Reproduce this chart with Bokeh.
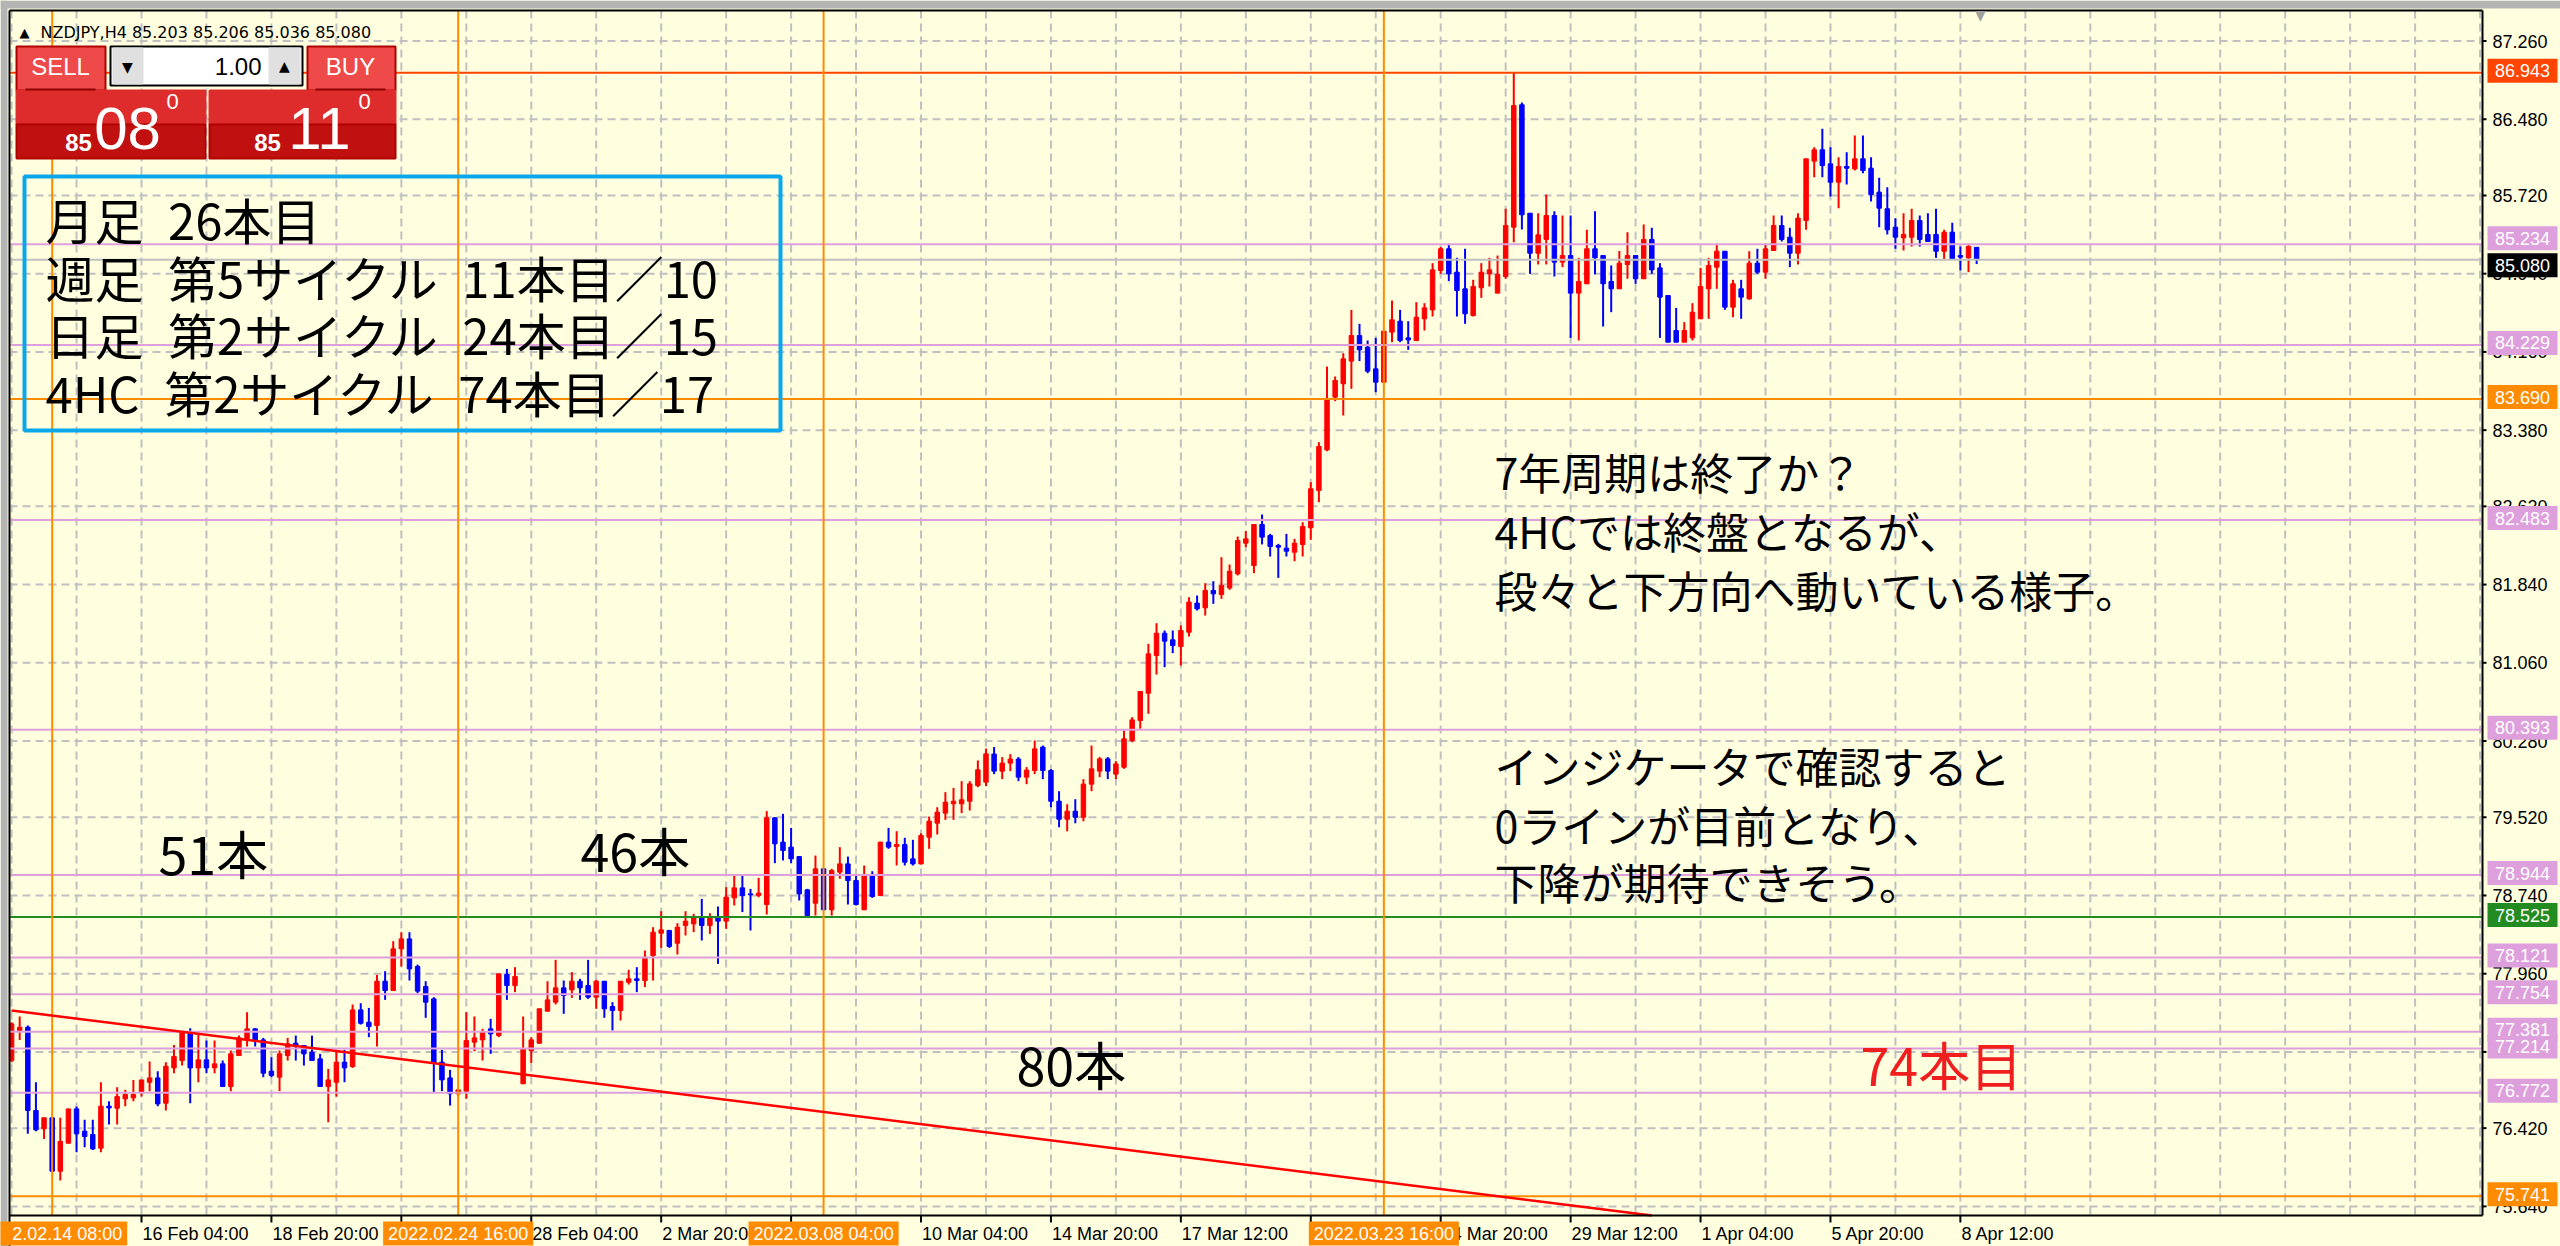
from bokeh.plotting import figure
from bokeh.models import ColumnDataSource, Range1d, Label, BoxAnnotation
from bokeh.core.properties import value
from bokeh.embed import file_html
from bokeh.resources import INLINE

# ---------------------------------------------------------------- data
first_bar = -16   # bar index 0 = 16 Feb 04:00 (H4 bars)
opens = [77.094,77.393,77.426,76.596,76.413,76.523,75.991,76.270,76.612,76.390,76.357,76.220,76.639,76.619,76.712,76.722,
 76.778,76.878,76.921,76.669,77.021,77.094,77.377,77.021,77.101,77.021,77.061,76.835,77.144,77.310,77.410,77.300,
 76.988,76.928,77.144,77.267,77.244,77.177,77.111,76.835,76.878,77.078,77.034,77.599,77.476,77.443,77.885,77.792,
 78.208,78.307,78.032,77.832,77.709,77.078,76.921,76.762,76.789,77.277,77.300,77.410,77.344,77.952,77.842,76.862,
 77.194,77.267,77.586,77.676,77.819,77.799,77.885,77.842,77.726,77.885,77.633,77.593,77.875,77.909,77.892,78.141,
 78.364,78.391,78.264,78.441,78.457,78.517,78.441,78.517,78.484,78.716,78.816,78.756,78.740,78.650,79.514,79.272,
 79.222,79.128,78.796,78.663,79.006,78.597,78.973,79.055,78.889,78.597,78.949,78.740,79.272,79.228,79.248,79.105,
 79.055,79.321,79.461,79.561,79.654,79.654,79.680,79.836,79.870,80.150,79.980,80.060,80.100,79.920,79.986,80.219,
 79.986,79.680,79.500,79.580,79.520,79.850,79.980,80.102,79.950,80.019,80.285,80.485,80.757,81.133,81.355,81.289,
 81.222,81.365,81.655,81.608,81.781,81.741,81.807,81.947,82.253,82.030,82.439,82.329,82.230,82.203,82.163,82.240,
 82.406,82.778,83.183,83.709,83.842,84.068,84.323,84.207,83.991,83.858,84.357,84.466,84.300,84.274,84.490,84.579,
 84.972,85.188,84.955,84.789,84.523,84.799,84.938,84.746,84.912,85.404,86.624,85.543,85.144,85.281,85.520,85.055,
 85.121,84.746,84.839,85.188,85.121,84.862,84.789,85.032,85.121,84.889,85.281,84.998,84.722,84.373,84.257,84.300,
 84.490,84.789,85.005,85.164,84.606,84.789,84.689,85.045,84.955,85.171,85.420,85.304,85.144,85.470,86.062,86.175,
 86.035,85.852,86.009,85.985,86.085,85.992,85.753,85.587,85.404,85.297,85.304,85.470,85.331,85.331,85.164,85.354,
 85.121,85.098,85.203]
highs = [77.476,77.533,77.443,76.878,76.523,76.523,76.523,76.612,76.636,76.503,76.503,76.878,76.689,76.828,76.802,76.901,
 76.901,77.084,76.988,77.078,77.250,77.386,77.416,77.353,77.293,77.293,77.094,77.194,77.343,77.576,77.416,77.320,
 77.127,77.194,77.320,77.343,77.244,77.343,77.161,77.011,77.201,77.201,77.653,77.666,77.619,77.948,77.985,78.284,
 78.374,78.374,78.051,77.885,77.726,77.201,77.001,76.802,77.576,77.533,77.410,77.510,77.959,78.008,78.025,77.533,
 77.327,77.610,77.885,78.098,77.892,77.975,77.909,78.098,77.899,77.885,77.676,77.885,77.999,78.025,78.191,78.424,
 78.583,78.397,78.464,78.583,78.557,78.706,78.563,78.630,78.823,78.939,78.939,78.806,78.916,79.581,79.521,79.554,
 79.414,79.128,78.806,79.138,79.006,79.006,79.222,79.128,78.939,79.039,78.982,79.272,79.414,79.381,79.315,79.295,
 79.361,79.527,79.620,79.770,79.813,79.880,79.880,80.086,80.205,80.220,80.120,80.150,80.120,80.020,80.285,80.235,
 80.000,79.780,79.650,79.700,79.900,80.235,80.120,80.120,80.080,80.385,80.518,80.774,81.249,81.455,81.382,81.382,
 81.432,81.714,81.731,81.854,81.874,82.113,82.040,82.319,82.373,82.439,82.539,82.346,82.246,82.346,82.296,82.462,
 82.861,83.260,84.014,83.915,84.147,84.579,84.440,84.274,84.300,84.367,84.672,84.579,84.466,84.656,84.646,85.045,
 85.205,85.238,85.098,85.188,84.879,85.045,85.098,85.121,85.587,86.943,86.647,85.543,85.543,85.729,85.563,85.520,
 85.520,85.098,85.377,85.563,85.121,85.022,85.165,85.354,85.121,85.430,85.397,85.045,84.722,84.599,84.457,84.646,
 84.998,85.098,85.238,85.164,84.879,84.879,85.164,85.188,85.238,85.520,85.520,85.397,85.543,86.085,86.201,86.384,
 86.201,86.102,86.151,86.318,86.318,86.102,85.896,85.803,85.493,85.543,85.587,85.520,85.543,85.587,85.377,85.447,
 85.211,85.238,85.206]
lows = [77.078,77.300,76.363,76.390,76.313,75.991,75.898,76.270,76.180,76.230,76.203,76.180,76.456,76.456,76.639,76.689,
 76.735,76.789,76.639,76.596,76.968,77.044,76.669,76.878,76.968,76.968,76.835,76.789,77.144,77.234,77.234,76.928,
 76.928,76.789,77.094,77.094,77.044,77.094,76.835,76.479,76.735,76.878,77.021,77.453,77.327,77.234,77.699,77.792,
 78.032,77.892,77.766,77.520,76.778,76.789,76.645,76.735,76.712,77.187,77.094,77.161,77.327,77.699,77.776,76.862,
 77.068,77.260,77.586,77.653,77.560,77.719,77.699,77.709,77.610,77.520,77.394,77.493,77.852,77.776,77.826,77.892,
 78.218,78.218,78.151,78.341,78.374,78.291,78.357,78.058,78.407,78.640,78.574,78.391,78.723,78.550,79.062,79.089,
 79.062,78.690,78.540,78.540,78.597,78.540,78.906,78.650,78.640,78.597,78.716,78.740,79.205,79.039,79.039,79.039,
 79.049,79.205,79.348,79.494,79.494,79.561,79.587,79.820,79.830,79.950,79.900,79.980,79.880,79.850,79.950,79.900,
 79.620,79.420,79.380,79.460,79.480,79.780,79.920,79.900,79.900,80.003,80.268,80.402,80.551,80.943,81.016,81.156,
 81.033,81.322,81.581,81.531,81.648,81.698,81.788,81.931,82.213,81.954,82.240,82.120,81.907,82.120,82.073,82.120,
 82.286,82.662,83.170,83.669,83.526,83.792,84.068,83.948,83.758,83.858,84.257,84.257,84.181,84.267,84.373,84.513,
 84.938,84.865,84.513,84.440,84.513,84.699,84.812,84.746,84.889,85.254,85.381,84.938,85.032,85.032,84.912,85.005,
 84.300,84.274,84.839,84.932,84.413,84.556,84.789,84.889,84.839,84.889,84.938,84.300,84.257,84.257,84.257,84.274,
 84.490,84.490,84.789,84.580,84.506,84.490,84.679,84.938,84.889,85.171,85.261,85.005,85.032,85.377,85.902,85.902,
 85.709,85.593,85.829,85.969,85.942,85.660,85.404,85.331,85.188,85.171,85.211,85.211,85.261,85.098,85.078,85.078,
 84.972,84.955,85.036]
closes = [77.460,77.426,76.596,76.403,76.523,75.991,76.287,76.612,76.363,76.337,76.213,76.639,76.622,76.735,76.755,76.755,
 76.901,76.921,76.662,77.038,77.134,77.377,77.021,77.101,77.021,77.061,76.835,77.161,77.320,77.410,77.300,76.968,
 76.945,77.161,77.260,77.244,77.161,77.094,76.835,76.901,77.078,77.021,77.599,77.466,77.433,77.885,77.792,78.208,
 78.307,78.008,77.786,77.676,77.068,76.901,76.762,76.802,77.293,77.320,77.377,77.360,77.959,77.842,77.932,77.211,
 77.300,77.610,77.699,77.819,77.743,77.885,77.819,77.726,77.885,77.610,77.593,77.885,77.909,77.892,78.125,78.374,
 78.397,78.231,78.424,78.484,78.517,78.441,78.517,78.484,78.723,78.816,78.740,78.747,78.763,79.514,79.255,79.188,
 79.105,78.756,78.540,79.006,78.597,78.989,79.055,78.889,78.650,78.939,78.730,79.272,79.222,79.248,79.072,79.055,
 79.338,79.481,79.571,79.670,79.680,79.694,79.853,79.993,80.152,79.980,80.060,80.100,79.920,79.990,80.202,79.986,
 79.680,79.500,79.580,79.520,79.850,80.003,80.102,79.980,80.052,80.302,80.491,80.774,81.149,81.355,81.276,81.232,
 81.382,81.665,81.598,81.781,81.748,81.831,81.974,82.279,82.296,82.439,82.313,82.220,82.213,82.173,82.253,82.419,
 82.795,83.217,83.692,83.875,84.091,84.323,84.181,83.968,83.858,84.367,84.480,84.274,84.280,84.506,84.599,84.978,
 85.188,84.938,84.772,84.540,84.812,84.955,84.978,84.932,85.420,86.617,85.527,85.144,85.327,85.520,85.055,85.121,
 84.746,84.862,85.188,85.098,84.839,84.789,85.045,85.121,84.889,85.281,84.978,84.706,84.257,84.257,84.373,84.556,
 84.812,85.022,85.164,84.606,84.839,84.706,85.045,84.955,85.188,85.420,85.281,85.144,85.494,86.085,86.175,86.019,
 85.852,86.009,85.992,86.085,85.969,85.729,85.593,85.377,85.304,85.331,85.470,85.281,85.261,85.164,85.354,85.088,
 85.105,85.211,85.080]

# price levels (horizontal lines) and their kinds
level_prices = [86.943, 85.234, 84.229, 83.690, 82.483, 80.393, 78.944, 78.525,
                78.121, 77.754, 77.381, 77.214, 76.772, 75.741]
level_kinds = ["high", "zone", "zone", "band", "zone", "zone", "zone", "zero",
               "zone", "zone", "zone", "zone", "zone", "band"]
current_price = 85.080

# price scale ticks
y_tick_values = [87.26, 86.48, 85.72, 84.94, 84.16, 83.38, 82.62, 81.84, 81.06,
                 80.28, 79.52, 78.74, 77.96, 77.18, 76.42, 75.64]
# time scale ticks (bar index -> label)
x_tick_bars = [0, 16, 32, 48, 64, 80, 96, 112, 128, 144, 160, 176, 192, 208, 224]
x_tick_labels = ["16 Feb 04:00", "18 Feb 20:00", "23 Feb 12:00", "28 Feb 04:00", "2 Mar 20:00",
                 "7 Mar 12:00", "10 Mar 04:00", "14 Mar 20:00", "17 Mar 12:00", "22 Mar 04:00",
                 "24 Mar 20:00", "29 Mar 12:00", "1 Apr 04:00", "5 Apr 20:00", "8 Apr 12:00"]
grid_bars = list(range(-16, 289, 8))
# cycle-low vertical lines
cycle_bars = [-11, 39, 84, 153]
cycle_labels = ["2022.02.14 08:00", "2022.02.24 16:00", "2022.03.08 04:00", "2022.03.23 16:00"]
# long-term trend line (bar index, price)
trend_bars = [-16, 186]
trend_prices = [77.593, 75.549]

# ---------------------------------------------------------------- layout (page pixels)
W, H = 2560, 1246
BAR_PX, BAR0_PX = 8.12, 141.0        # pixels per bar, page x of bar 0
PX_PER_YEN, REF_PRICE, REF_PX = 100.29, 86.943, 72.3
CHART_L, CHART_T, AXIS_X, AXIS_Y = 9, 10, 2482, 1215


def px_x(px):
    return (px - BAR0_PX) / BAR_PX


def px_y(py):
    return REF_PRICE - (py - REF_PX) / PX_PER_YEN


def y_px(price):
    return REF_PX + (REF_PRICE - price) * PX_PER_YEN


BG = "#FFFFE0"
BULL, BEAR = "#FF0000", "#0000FF"
LEVEL_COLORS = {"high": "#FF4500", "zone": "#DDA0DD", "band": "#FF8C00", "zero": "#228B22"}
AXIS_FONT = "Liberation Sans"
JP_FONT = "Noto Sans CJK JP"

p = figure(frame_width=W, frame_height=H, min_border=0,
           x_range=Range1d(px_x(0), px_x(W)), y_range=Range1d(px_y(H), px_y(0)),
           x_axis_type=None, y_axis_type=None,
           output_backend="svg", toolbar_location=None,
           background_fill_color=BG, border_fill_color=BG)
p.outline_line_color = None

xl, xr = px_x(CHART_L), px_x(AXIS_X)
yt, yb = px_y(CHART_T), px_y(AXIS_Y)

# window chrome
p.quad(left=[px_x(0), px_x(0)], right=[px_x(W), px_x(7)], top=[px_y(0), px_y(0)],
       bottom=[px_y(8), px_y(H)], fill_color="#B4B4B4", line_color=None)

# dashed grid
p.segment(x0=grid_bars, y0=[yt] * len(grid_bars), x1=grid_bars, y1=[yb] * len(grid_bars),
          line_color="#C0C0C0", line_width=2, line_dash="8 5")
p.segment(x0=[xl] * len(y_tick_values), y0=y_tick_values, x1=[xr] * len(y_tick_values),
          y1=y_tick_values, line_color="#C0C0C0", line_width=2, line_dash="8 5")

# candles
bars = list(range(first_bar, first_bar + len(opens)))
colors = [BULL if c >= o else BEAR for o, c in zip(opens, closes)]
src = ColumnDataSource(dict(x=bars, o=opens, h=highs, l=lows, c=closes, color=colors,
                            top=[max(o, c) for o, c in zip(opens, closes)],
                            bottom=[min(o, c) for o, c in zip(opens, closes)]))
p.segment(x0="x", y0="l", x1="x", y1="h", line_color="color", line_width=2, source=src)
p.vbar(x="x", width=0.55, top="top", bottom="bottom", fill_color="color",
       line_color="color", line_width=1, source=src)

# horizontal level lines
n = len(level_prices)
p.segment(x0=[xl] * n, y0=level_prices, x1=[xr] * n, y1=level_prices,
          line_color=[LEVEL_COLORS[k] for k in level_kinds], line_width=2)
p.segment(x0=[xl], y0=[current_price], x1=[xr], y1=[current_price], line_color="#C0C0C0", line_width=2)

# vertical cycle lines
p.segment(x0=cycle_bars, y0=[yt] * 4, x1=cycle_bars, y1=[yb] * 4, line_color="#FF8C00", line_width=2)

# trend line
p.line(trend_bars, trend_prices, line_color="#FF0000", line_width=2.5)

# chart border and scales
p.segment(x0=[xl, xl, xr, xl], y0=[yt, yt, yt, yb], x1=[xr, xl, xr, xr], y1=[yt, px_y(H), yb, yb],
          line_color="black", line_width=2)
tick_len_x = 4 / BAR_PX
p.segment(x0=[xr] * len(y_tick_values), y0=y_tick_values, x1=[xr + tick_len_x] * len(y_tick_values),
          y1=y_tick_values, line_color="black", line_width=2)
p.segment(x0=x_tick_bars, y0=[yb] * len(x_tick_bars), x1=x_tick_bars,
          y1=[px_y(AXIS_Y + 7)] * len(x_tick_bars), line_color="black", line_width=2)
p.text(x=[px_x(2492)] * len(y_tick_values), y=y_tick_values,
       text=[f"{v:.3f}" for v in y_tick_values], text_font=value(AXIS_FONT),
       text_font_size="18px", text_color="black", text_align="left", text_baseline="middle")
p.text(x=x_tick_bars, y=[px_y(1233)] * len(x_tick_bars), text=x_tick_labels, x_offset=1,
       text_font=value(AXIS_FONT), text_font_size="18px", text_color="black",
       text_align="left", text_baseline="middle")

# price tags on the price scale (the bid tag pushes an overlapping tag aside)
TAG_HALF = 12
tag_prices = level_prices + [current_price]
tag_colors = [LEVEL_COLORS[k] for k in level_kinds] + ["black"]
tag_cy = [y_px(v) - 2 for v in tag_prices]
k = len(tag_cy) - 1
for j in range(k):
    gap = abs(tag_cy[k] - tag_cy[j])
    if gap < 2 * TAG_HALF:
        ov = 2 * TAG_HALF - gap + 3
        sgn = 1 if tag_cy[k] > tag_cy[j] else -1
        tag_cy[j] -= sgn * 0.35 * ov
        tag_cy[k] += sgn * 0.65 * ov
p.quad(left=[px_x(2487)] * len(tag_prices), right=[px_x(2557)] * len(tag_prices),
       top=[px_y(c - TAG_HALF) for c in tag_cy], bottom=[px_y(c + TAG_HALF) for c in tag_cy],
       fill_color=tag_colors, line_color=None)
p.text(x=[px_x(2522)] * len(tag_prices), y=[px_y(c) for c in tag_cy],
       text=[f"{v:.3f}" for v in tag_prices],
       text_font=value(AXIS_FONT), text_font_size="18px", text_color="white",
       text_align="center", text_baseline="middle")

# date tags on the time scale (text trimmed where the tag runs off the left edge)
EM = {" ": 0.278, ":": 0.278, ".": 0.278}


def char_w(ch, size=18):
    return EM.get(ch, 0.556) * size


def text_w(s, size=18):
    return sum(char_w(ch, size) for ch in s)


tag_left, tag_right, tag_text, tag_text_x = [], [], [], []
for b, t in zip(cycle_bars, cycle_labels):
    cpx = BAR0_PX + b * BAR_PX
    left_px = cpx - text_w(t) / 2
    tag_left.append(px_x(left_px - 5))
    tag_right.append(px_x(cpx + text_w(t) / 2 + 5))
    s = t
    while left_px < 3 and s:
        left_px += char_w(s[0])
        s = s[1:]
    tag_text.append(s)
    tag_text_x.append(px_x(left_px))
p.quad(left=tag_left, right=tag_right, top=[px_y(1221)] * 4, bottom=[px_y(1245)] * 4,
       fill_color="#FF8C00", line_color=None)
p.text(x=tag_text_x, y=[px_y(1233)] * 4, text=tag_text, text_font=value(AXIS_FONT),
       text_font_size="18px", text_color="white", text_align="left", text_baseline="middle")

# ---------------------------------------------------------------- annotations


def ptext(x, y, s, size, color="white", align="center", font=AXIS_FONT, style="normal"):
    p.add_layout(Label(x=px_x(x), y=px_y(y), text=s, text_font=font, text_font_size=size,
                       text_color=color, text_align=align, text_baseline="middle",
                       text_font_style=style))


# header
ptext(24, 32, "▲", "13px", color="black", font="DejaVu Sans")
ptext(40, 32, "NZDJPY,H4  85.203 85.206 85.036 85.080", "16px", color="black", align="left",
      font="DejaVu Sans")
ptext(1980, 14, "▼", "14px", color="#A0A0A0", font="DejaVu Sans")

# one-click trading panel
panel = dict(
    l=[16, 16, 16, 307, 209, 209, 110, 113, 269],
    r=[105, 205, 205, 395, 395, 395, 302, 142, 299],
    t=[46, 90, 124, 46, 90, 124, 46, 48, 48],
    b=[90, 124, 158, 90, 124, 158, 85, 83, 83],
    fill=["#EE4A4A", "#DE2C2C", "#C01010", "#EE4A4A", "#DE2C2C", "#C01010", "white", "#E0E0E0", "#E0E0E0"],
    line=["#B00000", "#DE2C2C", "#B00000", "#B00000", "#DE2C2C", "#B00000", "black", "#E0E0E0", "#E0E0E0"],
)
p.quad(left=[px_x(v) for v in panel["l"]], right=[px_x(v) for v in panel["r"]],
       top=[px_y(v) for v in panel["t"]], bottom=[px_y(v) for v in panel["b"]],
       fill_color=panel["fill"], line_color=panel["line"], line_width=2)
p.segment(x0=[px_x(25), px_x(315)], y0=[px_y(89)] * 2, x1=[px_x(95), px_x(385)], y1=[px_y(89)] * 2,
          line_color="#8B0000", line_width=2)

ptext(60, 66, "SELL", "24px")
ptext(350, 66, "BUY", "24px")
ptext(261, 66, "1.00", "24px", color="black", align="right")
ptext(127, 66, "▼", "14px", color="black", font="DejaVu Sans")
ptext(284, 65, "▲", "14px", color="black", font="DejaVu Sans")
ptext(78, 142, "85", "24px", style="bold")
ptext(127, 128, "08", "60px")
ptext(172, 101, "0", "22px")
ptext(267, 142, "85", "24px", style="bold")
ptext(319, 128, "11", "60px")
ptext(364, 101, "0", "22px")

# cycle info box
p.add_layout(BoxAnnotation(left=px_x(24), right=px_x(780), top=px_y(176), bottom=px_y(430),
                           fill_alpha=0, line_alpha=1, line_color="#0AA8EA", line_width=4))
SP = "\u2002"
box_lines = [f"月足{SP}26本目",
             f"週足{SP}第5サイクル{SP}11本目／10",
             f"日足{SP}第2サイクル{SP}24本目／15",
             f"4HC{SP}第2サイクル{SP}74本目／17"]
for s, yy in zip(box_lines, [218, 276, 333, 391]):
    ptext(45, yy, s, "49px", color="black", align="left", font=JP_FONT)

comment_lines = ["7年周期は終了か？", "4HCでは終盤となるが、", "段々と下方向へ動いている様子。",
                 "インジケータで確認すると", "0ラインが目前となり、", "下降が期待できそう。"]
for s, yy in zip(comment_lines, [470, 529, 588, 764, 823, 880]):
    ptext(1494, yy, s, "43px", color="black", align="left", font=JP_FONT)

ptext(158, 852, "51本", "52px", color="black", align="left", font=JP_FONT)
ptext(580, 849, "46本", "52px", color="black", align="left", font=JP_FONT)
ptext(1016, 1063, "80本", "52px", color="black", align="left", font=JP_FONT)
ptext(1860, 1063, "74本目", "52px", color="#F01E1E", align="left", font=JP_FONT)

open("out.html", "w").write(file_html(p, INLINE))
